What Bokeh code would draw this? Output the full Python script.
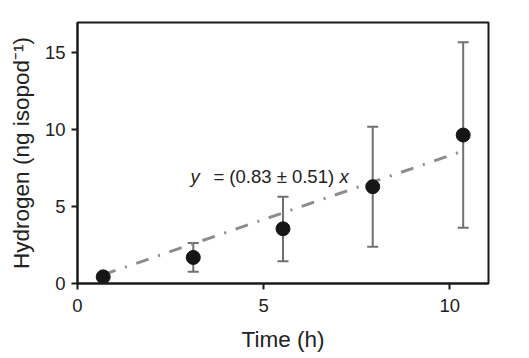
from bokeh.plotting import figure
from bokeh.models import ColumnDataSource, Whisker, Label, FixedTicker, Range1d
from bokeh.embed import file_html
from bokeh.resources import INLINE

# data
time_h = [0.69, 3.11, 5.52, 7.93, 10.36]
hydrogen = [0.43, 1.69, 3.55, 6.28, 9.63]
err_upper = [0.43, 2.62, 5.63, 10.17, 15.65]
err_lower = [0.43, 0.76, 1.45, 2.38, 3.62]
slope = 0.83
fit_x = [0.69, 10.22]
fit_y = [slope * v for v in fit_x]
x_ticks = [0, 5, 10]
y_ticks = [0, 5, 10, 15]

FONT = "Liberation Sans"

p = figure(frame_width=411, frame_height=261,
           min_border_left=77, min_border_right=33, min_border_top=22, min_border_bottom=67,
           x_range=Range1d(0, 11.04), y_range=Range1d(0, 16.93),
           output_backend="svg", toolbar_location=None)

p.grid.visible = False
p.outline_line_color = "#1a1a1a"
p.outline_line_width = 2
p.background_fill_color = "white"
p.border_fill_color = "white"

for ax in (p.xaxis[0], p.yaxis[0]):
    ax.axis_line_color = "#1a1a1a"
    ax.axis_line_width = 2
    ax.major_tick_line_color = "#1a1a1a"
    ax.major_tick_line_width = 2
    ax.major_tick_out = 6
    ax.major_tick_in = 0
    ax.minor_tick_line_color = None
    ax.major_label_text_font = FONT
    ax.major_label_text_font_size = "18.5px"
    ax.major_label_text_color = "#222222"
    ax.axis_label_text_font = FONT
    ax.axis_label_text_font_size = "22.5px"
    ax.axis_label_text_font_style = "normal"
    ax.axis_label_text_color = "#222222"

p.xaxis.ticker = FixedTicker(ticks=x_ticks)
p.yaxis.ticker = FixedTicker(ticks=y_ticks)
p.xaxis.axis_label = "Time (h)"
p.yaxis.axis_label = "Hydrogen (ng isopod\u207b\u00b9)"
p.xaxis.major_label_standoff = 9
p.yaxis.major_label_standoff = 6
p.xaxis.axis_label_standoff = 12
p.yaxis.axis_label_standoff = 8

src = ColumnDataSource(dict(x=time_h, y=hydrogen, upper=err_upper, lower=err_lower))

w = Whisker(base="x", upper="upper", lower="lower", source=src,
            line_color="#707070", line_width=2)
w.upper_head.size = 11
w.lower_head.size = 11
w.upper_head.line_color = "#707070"
w.lower_head.line_color = "#707070"
w.upper_head.line_width = 2
w.lower_head.line_width = 2
p.add_layout(w)

p.line(fit_x, fit_y, line_color="#8c8c8c", line_width=3, line_dash="13 10 2 10")

p.scatter("x", "y", source=src, size=14, fill_color="#161616", line_color="#161616")

lab_y = 6.93
p.add_layout(Label(x=3.035, y=lab_y, text="y", text_font=FONT, text_font_size="18.5px",
                   text_font_style="italic", text_color="#222222", text_baseline="alphabetic"))
p.add_layout(Label(x=3.65, y=lab_y, text="= (0.83 \u00b1 0.51)", text_font=FONT,
                   text_font_size="18.5px", text_color="#222222", text_baseline="alphabetic"))
p.add_layout(Label(x=7.04, y=lab_y, text="x", text_font=FONT, text_font_size="18.5px",
                   text_font_style="italic", text_color="#222222", text_baseline="alphabetic"))

open("out.html", "w").write(file_html(p, INLINE))
